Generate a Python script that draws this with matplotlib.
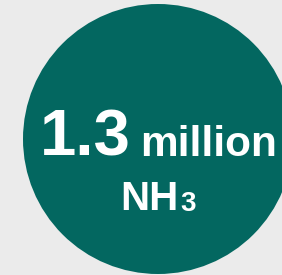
import matplotlib
matplotlib.use('Agg')
import matplotlib.pyplot as plt
from matplotlib.patches import Circle

# ── Content ────────────────────────────────────────────────────────────────
value     = "1.3"
unit      = "million"
chem      = "NH"
chem_sub  = "3"

BG    = "#EBEBEB"
TEAL  = "#036760"
WHITE = "#FFFFFF"
FONT  = "Liberation Sans"

W, H = 282, 275

fig = plt.figure(figsize=(W / 100, H / 100), dpi=100, facecolor=BG)
ax = fig.add_axes([0, 0, 1, 1])
ax.set_xlim(0, W)
ax.set_ylim(H, 0)
ax.set_aspect('equal')
ax.axis('off')
ax.set_facecolor(BG)

ax.add_patch(Circle((158, 139), 135, color=TEAL, lw=0))

style = dict(fontweight='bold', color=WHITE, family=FONT,
             ha='left', va='baseline')


def after(t, gap):
    # x (data coords) just right of text t, plus gap in pixels
    fig.canvas.draw()
    bb = t.get_window_extent()
    x, _ = ax.transData.inverted().transform((bb.x1, bb.y0))
    return x + gap


# first line: big value + unit, same baseline
base1 = 156
t1 = ax.text(40, base1, value, fontsize=47, **style)
ax.text(after(t1, 9), base1, unit, fontsize=30.5, **style)

# second line: NH with a smaller 3
base2 = 210
t2 = ax.text(120, base2, chem, fontsize=29, **style)
ax.text(after(t2, 2), base2 + 1, chem_sub, fontsize=20, **style)

plt.savefig("out.png", dpi=100, facecolor=BG)
plt.close()
